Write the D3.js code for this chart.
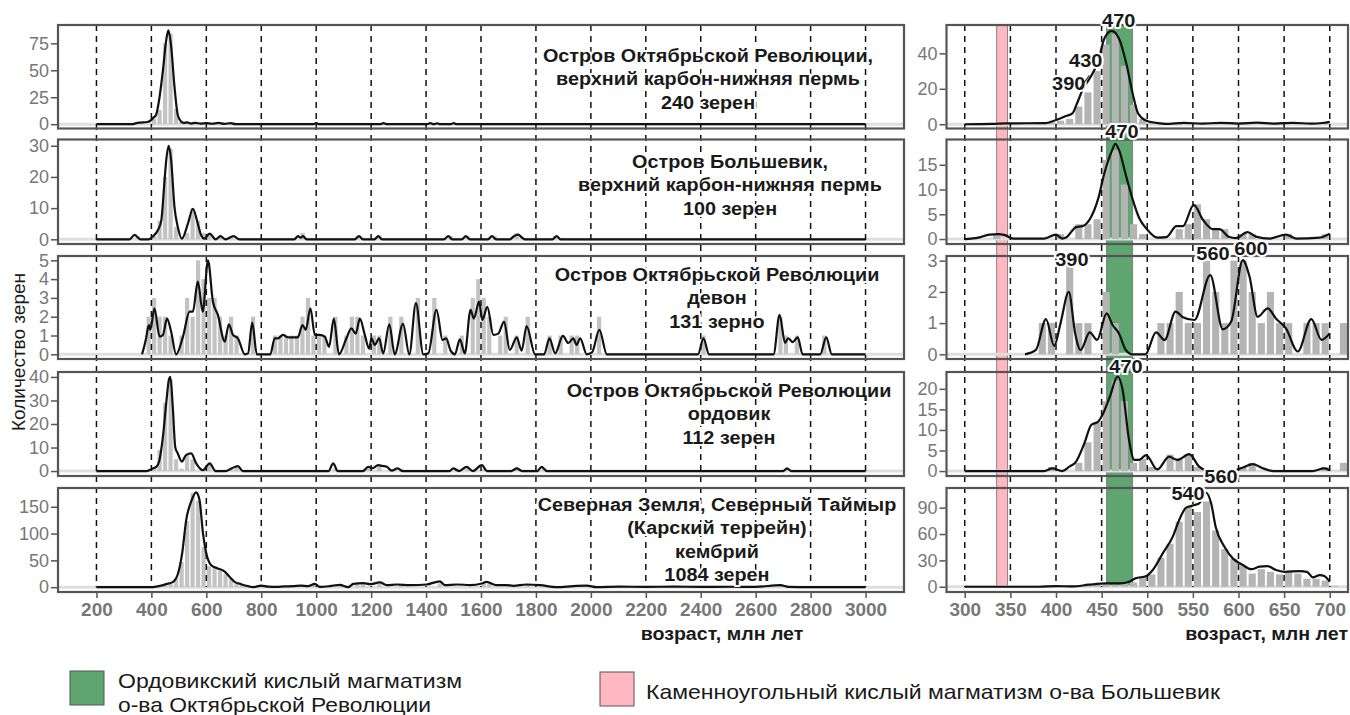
<!DOCTYPE html>
<html><head><meta charset="utf-8">
<script src="https://cdn.jsdelivr.net/npm/d3@7"></script>
<style>
body{margin:0;background:#fff}
svg{display:block}
text{font-family:"Liberation Sans",Arial,Helvetica,sans-serif}
</style></head>
<body><svg id="c" width="1350" height="715"></svg>
<script>
// ---------------- DATA ----------------
const panelTitles = [
  ["Остров Октябрьской Революции,","верхний карбон-нижняя пермь","240 зерен"],
  ["Остров Большевик,","верхний карбон-нижняя пермь","100 зерен"],
  ["Остров Октябрьской Революции","девон","131 зерно"],
  ["Остров Октябрьской Революции","ордовик","112 зерен"],
  ["Северная Земля, Северный Таймыр","(Карский террейн)","кембрий","1084 зерен"]
];
const xTicksLeft = [200,400,600,800,1000,1200,1400,1600,1800,2000,2200,2400,2600,2800,3000];
const xTicksRight = [300,350,400,450,500,550,600,650,700];
const yTicksLeft = [[0,25,50,75],[0,10,20,30],[0,1,2,3,4,5],[0,10,20,30,40],[0,50,100,150]];
const yTicksRight = [[0,20,40],[0,5,10,15],[0,1,2,3],[0,5,10,15,20],[0,30,60,90]];
const yDomLeft = [[-4,92],[-1.5,32],[-0.25,5.23],[-2.1,42.1],[-9,185]];
const yDomRight = [[-2.4,56],[-1,20.1],[-0.15,3.15],[-1.2,24.1],[-6,112.4]];
const xAxisTitle = "возраст, млн лет";
const yAxisTitle = "Количество зерен";

// KDE curves, left (200-3000 Ma)
const kdeL1 = [[200,0],[330,0],[345,1],[360,1.5],[385,2],[400,4],[405,5.5],[417,8.6],[430,25.6],[442,50],[454,78],[462,87],[472,72],[484,35],[496,8.6],[508,2.5],[518,1.2],[530,1.6],[545,0.6],[560,1.3],[580,0.5],[600,1],[620,0.4],[645,1.2],[665,0.3],[690,1],[705,0],[990,0],[1000,1],[1012,0],[1232,0],[1245,1],[1258,0],[1405,0],[1415,1],[1428,0],[1440,0.8],[1452,0],[1490,0],[1500,1],[1512,0],[3000,0]];
const kdeL2 = [[200,0],[320,0],[339,1.4],[360,0],[390,0],[406,1],[424,3],[436,6],[448,19],[454,25.3],[463,30],[472,25.3],[484,10.4],[496,4],[511,0.2],[533,5],[551,9.8],[569,5],[581,1.3],[593,0.2],[612,1.8],[634,0],[651,1],[670,0],[699,1],[721,0],[920,0],[934,1],[943,0.5],[952,1],[965,0],[1140,0],[1156,1],[1170,0],[1212,0],[1226,1],[1240,0],[1465,0],[1481,1],[1495,0],[1530,0],[1545,1],[1560,0],[1625,0],[1640,1],[1655,0],[1705,0],[1720,1],[1735,1.5],[1750,0.5],[1760,0],[1860,0],[1875,1],[1890,0],[3000,0]];
const kdeL3 = [[366,0],[380,0.8],[387,1.38],[391,1.56],[396,1.3],[411,2.45],[430,0.94],[442,1.03],[457,1.9],[472,1.2],[490,0],[515,0.94],[539,2.27],[551,2.27],[569,3.87],[587,2.27],[606,5.0],[624,2.8],[642,2.1],[667,0.67],[682,1.6],[697,1.03],[715,0.85],[740,0],[752,0.05],[767,1.68],[784,0],[833,0],[849,0.85],[861,0.85],[879,1.03],[897,0.9],[915,0.9],[933,0.9],[950,1.56],[962,1.3],[979,2.45],[995,1.03],[1013,1.03],[1031,0.94],[1047,0.4],[1064,1.9],[1083,0],[1110,0.85],[1128,1.38],[1144,1.1],[1159,1.9],[1177,1.03],[1193,0.3],[1201,0.85],[1213,0.5],[1229,0.85],[1244,0.05],[1266,1.6],[1286,0],[1316,1.62],[1339,0],[1363,2.72],[1390,0],[1408,0.05],[1438,2.36],[1460,0.76],[1473,0.85],[1490,0.18],[1505,0],[1523,0.8],[1541,0.05],[1562,2.36],[1574,1.9],[1593,2.8],[1605,1.83],[1623,2.53],[1645,1.03],[1663,1.1],[1684,1.74],[1705,0.23],[1730,0.9],[1748,0.2],[1766,1.5],[1797,0],[1830,0],[1849,0.85],[1870,0.05],[1898,0.98],[1918,0.6],[1936,0.85],[1948,0.5],[1961,0.85],[1985,0],[2004,0.1],[2031,1.3],[2058,0],[2390,0],[2410,0.85],[2430,0],[2665,0],[2687,2.1],[2707,0.6],[2718,0.85],[2735,0.65],[2753,0.9],[2771,0],[2835,0],[2857,0.9],[2877,0],[3000,0]];
const kdeL4 = [[200,0],[383,0],[405,1.1],[418,1.8],[430,5],[442,14.6],[455,30],[464,39],[469,40],[478,27],[487,10],[496,7.5],[511,4],[526,6.8],[545,7.5],[563,3.3],[588,0.4],[612,3.3],[634,0],[670,0],[691,1.1],[715,2.1],[733,0],[1045,0],[1062,3.3],[1078,0],[1170,0],[1189,1.8],[1205,1.2],[1226,2.5],[1240,2.2],[1257,1.8],[1275,0.2],[1297,1.1],[1315,0],[1485,0],[1499,1.1],[1520,0],[1548,1.8],[1570,0],[1603,2.5],[1622,0],[1710,0],[1730,1.1],[1750,0],[1805,0],[1821,1.8],[1840,0],[2700,0],[2714,1.1],[2730,0],[3000,0]];
const kdeL5 = [[200,0],[405,0],[427,1.9],[454,5.6],[479,10],[497,25.6],[512,63],[527,126],[545,160],[563,177],[575,163],[588,100],[600,63],[618,41],[642,35],[667,29],[685,19],[703,10],[727,5.6],[752,1.9],[770,0],[800,3],[825,1],[855,0.6],[885,1.5],[916,1.9],[945,3],[970,2],[995,6],[1013,0.6],[1050,2],[1086,4.4],[1116,0],[1135,6],[1172,7.5],[1196,5.6],[1232,8.8],[1257,3.8],[1294,5],[1342,3.8],[1402,5],[1450,11],[1469,3.8],[1512,5],[1560,4],[1603,6.9],[1620,10],[1656,3.8],[1690,4],[1718,2.5],[1766,5],[1815,3.8],[1876,0],[1936,1.9],[1985,3],[2021,0],[2100,1],[2200,0.5],[2300,1],[2400,0.5],[2500,0.8],[2600,0.5],[2690,3.8],[2720,0.5],[2800,0],[3000,0]];

// KDE curves, right (300-700 Ma)
const kdeR1 = [[300,0],[330,0.2],[347,0.5],[387,0.6],[400,2.4],[411,4.6],[418,6.1],[423,11.7],[429,19.3],[438,26.8],[446,35.2],[453,48.4],[461,52.7],[469,48.4],[477,34.4],[484,17.4],[490,6.1],[499,2],[510,0.8],[521,0.2],[540,0.8],[560,0.3],[580,0.8],[600,0.4],[620,0.9],[640,0.4],[660,0.8],[680,0.3],[692,0.7],[700,1.3]];
const kdeR2 = [[300,0],[315,0.3],[327,0.9],[337,1.0],[344,0.8],[353,0.1],[387,0.1],[400,0.9],[407,0.1],[411,0.3],[422,2.4],[429,2.6],[438,4.3],[446,8],[453,13.3],[461,17.7],[465,19.2],[469,18],[477,12.6],[484,8],[491,4.3],[500,1.9],[511,0.3],[521,0.4],[532,2.6],[539,2.6],[551,6.9],[561,3.9],[572,2.0],[579,2.0],[590,0.4],[597,0.2],[610,1.4],[619,0.5],[634,0.1],[652,0.9],[663,0.1],[689,0.3],[700,1.1]];
const kdeR3 = [[366,0],[378,0.14],[389,1.13],[398,0.27],[405,1.0],[414,2.0],[421,0.67],[427,0.14],[437,0.7],[445,0.46],[455.5,1.31],[462,0.94],[469,0.67],[476.5,0.14],[484,0],[498,0],[509.6,0.7],[519,0.46],[531,1.37],[539,1.19],[551.7,1.1],[569,2.54],[582.8,0.8],[592,1.05],[604.7,3.02],[612,2.5],[621,1.2],[632,1.47],[641,1.15],[652,0.83],[665,0.09],[679.8,1.13],[691,0.46],[700,0.67]];
const kdeR4 = [[300,0],[387,0],[396,0.65],[407,0],[414.5,1.06],[422,2.3],[431,6.7],[438.6,11.2],[446,12],[451,13.7],[459,18.1],[467.5,23],[473,19.8],[480,7.6],[486,2.7],[491,2.7],[498.7,3.9],[511,0.4],[524,3.5],[533,2.7],[546,4.1],[557,1.06],[568,0],[593,0],[604,0.8],[615.7,1.7],[627,0.65],[638,0],[681,0],[694,0.65],[700,0.2]];
const kdeR5 = [[300,0],[381,0],[400,0.8],[418,0.3],[436,2.3],[455,3.8],[470,3.8],[480,5.7],[487,9.5],[499,12.2],[506,19],[517,38],[528,57],[535,76],[542.6,90],[551.7,93],[557,95],[564.5,107],[570,95],[575,68],[584.6,45.5],[594,32],[604.7,24.7],[614,20],[623,22.8],[632,23.5],[641,19],[650.5,17],[667,17.8],[675,17],[681.6,10.6],[689,13.3],[694,12.2],[700,5.7]];

// Histograms: [bin start, count]; left bins 20 Ma, right bins 10 Ma
const histL1 = [[400,5],[420,13],[440,75],[460,84],[480,14],[500,2],[520,1],[560,1],[640,1],[680,1],[1000,1],[1240,1],[1420,1],[1440,1],[1500,1]];
const histL2 = [[340,1],[400,1],[420,6],[440,20],[460,29],[480,4],[520,2],[540,10],[560,6],[580,2],[600,2],[640,1],[680,1],[940,2],[1140,1],[1220,1],[1480,1],[1540,1],[1640,1],[1720,2],[1860,1]];
const histL3 = [[380,2],[400,3],[420,2],[440,2],[460,1],[500,1],[520,3],[540,2],[560,5],[580,4],[600,3],[620,3],[640,2],[660,1],[680,2],[700,1],[760,2],[840,1],[860,1],[880,1],[900,1],[920,1],[940,2],[960,3],[980,1],[1000,1],[1020,1],[1060,2],[1100,1],[1120,2],[1140,2],[1160,1],[1200,1],[1220,1],[1260,2],[1300,2],[1360,3],[1420,3],[1460,1],[1520,1],[1560,3],[1580,4],[1600,3],[1620,2],[1660,1],[1680,2],[1720,1],[1760,2],[1840,1],[1880,1],[1920,1],[1940,1],[2020,2],[2400,1],[2680,2],[2700,1],[2740,1],[2840,1]];
const histL4 = [[400,1],[420,9],[440,29],[460,39],[480,5],[500,1],[520,7],[540,5],[600,3],[680,1],[700,2],[1060,1],[1180,1],[1220,2],[1260,1],[1300,1],[1500,1],[1540,1],[1600,1],[1720,1],[1820,1],[2700,1]];
const histL5 = [[420,1],[440,5],[460,7],[480,16],[500,47],[520,123],[540,176],[560,161],[580,75],[600,39],[620,37],[640,31],[660,24],[680,16],[700,8],[720,4],[760,2],[800,3],[900,2],[980,4],[1080,3],[1140,5],[1160,6],[1220,6],[1300,4],[1440,7],[1600,7],[1620,6],[1760,4],[1980,3],[2680,3]];
const histR1 = [[390,1],[400,2],[410,3],[420,10],[430,18],[440,30],[450,45],[460,51],[470,33],[480,11],[490,3],[500,1],[510,1],[530,1],[560,1],[600,1],[640,1],[690,1]];
const histR2 = [[330,1],[400,1],[420,3],[430,3],[440,4],[450,16],[460,18],[470,11],[480,3],[490,1],[530,2],[540,3],[550,7],[560,4],[570,2],[580,2],[600,1],[610,1],[650,1],[690,1]];
const histR3 = [[380,1],[390,1],[410,3],[420,1],[430,1],[450,2],[460,1],[510,1],[520,1],[530,2],[540,1],[550,1],[560,3],[570,2],[580,1],[590,3],[600,3],[610,2],[620,1],[630,2],[640,1],[650,1],[670,1],[680,1],[690,1],[710,1]];
const histR4 = [[390,1],[420,2],[430,7],[440,12],[450,17],[460,22],[470,17],[480,2],[490,3],[500,1],[520,4],[530,3],[540,4],[550,1],[600,1],[610,2],[690,1],[710,2]];
const histR5 = [[430,1],[440,2],[450,3],[460,3],[470,4],[480,5],[490,11],[500,14],[510,33],[520,49],[530,74],[540,91],[550,85],[560,97],[570,64],[580,43],[590,32],[600,24],[610,15],[620,20],[630,17],[640,14],[650,17],[660,15],[670,9],[680,9],[690,7],[700,1]];

// magmatism bands (Ma)
const bandOrdovician = [455.5, 484];
const bandCarboniferous = [335, 347];
const legendItems = [
  {lines:["Ордовикский кислый магматизм","о-ва Октябрьской Революции"], color:"#5fa56f"},
  {lines:["Каменноугольный кислый магматизм о-ва Большевик"], color:"#ffb7c1"}
];
// peak annotations on right panels: [panel, label, age, value]
const peakLabels = [[0,"470",468.8,54.9],[0,"430",432.6,32.5],[0,"390",414,19.3],
  [1,"470",472.3,20.4],[2,"390",417.4,2.83],[2,"560",572,3.02],[2,"600",613.7,3.18],
  [3,"470",476.7,23.9],[4,"560",580.8,118],[4,"540",544.7,98.7]];

// ---------------- DRAW ----------------
const svg = d3.select("#c");
const rows = [{t:25,b:128.5},{t:139.5,b:244},{t:256,b:359},{t:372,b:476},{t:488,b:592}];
const xL = d3.scaleLinear().domain([60,3140]).range([58,904]);
const xR = d3.scaleLinear().domain([280,720]).range([946.5,1348]);
const sides = [
  {x:xL, kde:[kdeL1,kdeL2,kdeL3,kdeL4,kdeL5], hist:[histL1,histL2,histL3,histL4,histL5], bin:20, dom:yDomLeft, ticks:yTicksLeft, fill:"#c3c3c3", gap:1.3, xt:xTicksLeft},
  {x:xR, kde:[kdeR1,kdeR2,kdeR3,kdeR4,kdeR5], hist:[histR1,histR2,histR3,histR4,histR5], bin:10, dom:yDomRight, ticks:yTicksRight, fill:"#b4b4b4", gap:2, xt:xTicksRight}
];
const defs = svg.append("defs");
const gBands = svg.append("g"), gBars = svg.append("g"), gDash = svg.append("g"),
      gCurves = svg.append("g"), gFrames = svg.append("g"), gAxes = svg.append("g"), gText = svg.append("g");
const yScales = [[],[]];

// bands
[[bandCarboniferous,legendItems[1].color],[bandOrdovician,legendItems[0].color]].forEach(([b,c])=>{
  gBands.append("rect").attr("x",xR(b[0])).attr("width",xR(b[1])-xR(b[0]))
    .attr("y",rows[0].t).attr("height",586.7-rows[0].t)
    .attr("fill",c).attr("stroke","#6f6f6f").attr("stroke-width",0.8);
});

sides.forEach((s,si)=>{
  const [x0,x1] = s.x.range();
  rows.forEach((r,pi)=>{
    const y = d3.scaleLinear().domain(s.dom[pi]).range([r.b,r.t]);
    yScales[si][pi]=y;
    const id = `clip${si}_${pi}`;
    defs.append("clipPath").attr("id",id).append("rect").attr("x",x0).attr("y",r.t).attr("width",x1-x0).attr("height",r.b-r.t);
    const gb = gBars.append("g").attr("clip-path",`url(#${id})`);
    gb.append("line").attr("x1",x0).attr("x2",x1).attr("y1",y(0)).attr("y2",y(0)).attr("stroke","#dedede").attr("stroke-width",3);
    gb.selectAll("rect").data(s.hist[pi]).join("rect")
      .attr("x",d=>s.x(d[0])+s.gap/2).attr("width",d=>s.x(d[0]+s.bin)-s.x(d[0])-s.gap)
      .attr("y",d=>y(d[1])).attr("height",d=>y(0)-y(d[1])).attr("fill",s.fill);
    gCurves.append("path").attr("clip-path",`url(#${id})`).datum(s.kde[pi])
      .attr("d",d3.line().x(d=>s.x(d[0])).y(d=>y(d[1])).curve(d3.curveMonotoneX))
      .attr("fill","none").attr("stroke","#111").attr("stroke-width",2.2).attr("stroke-linejoin","round");
    gFrames.append("rect").attr("x",x0).attr("y",r.t).attr("width",x1-x0).attr("height",r.b-r.t)
      .attr("fill","none").attr("stroke","#555").attr("stroke-width",2.2);
    const ax = gAxes.append("g").attr("transform",`translate(${x0-1},0)`)
      .call(d3.axisLeft(y).tickValues(s.ticks[pi]).tickSize(6).tickPadding(2).tickFormat(d3.format("d")));
    ax.select(".domain").remove();
    ax.selectAll("line").attr("stroke","#555").attr("stroke-width",1.5);
    ax.selectAll("text").attr("fill","#777").style("font-size","18px").style("font-family","Liberation Sans, Arial, sans-serif");
  });
  // dashed verticals
  gDash.selectAll(null).data(s.xt).join("line")
    .attr("x1",d=>s.x(d)).attr("x2",d=>s.x(d)).attr("y1",rows[0].t).attr("y2",587)
    .attr("stroke","#111").attr("stroke-width",1.5).attr("stroke-dasharray","6,5");
  const xa = gAxes.append("g").attr("transform",`translate(0,${rows[4].b+1})`)
    .call(d3.axisBottom(s.x).tickValues(s.xt).tickSize(5).tickPadding(5).tickFormat(d3.format("d")));
  xa.select(".domain").remove();
  xa.selectAll("line").attr("stroke","#555").attr("stroke-width",1.5);
  xa.selectAll("text").attr("fill","#777").style("font-size","19px").style("font-weight","bold").style("font-family","Liberation Sans, Arial, sans-serif");
});

function stretch(sel,k){ sel.each(function(){ const w=this.getComputedTextLength(); d3.select(this).attr("textLength",w*k).attr("lengthAdjust","spacingAndGlyphs"); }); }
function halo(sel,w){ sel.attr("stroke","#fff").attr("stroke-width",w).attr("stroke-linejoin","round").style("paint-order","stroke"); }

// panel titles
const titleX = [708,730,717,729,717], titleY0 = [62,168,281,397,511];
panelTitles.forEach((lines,i)=>{
  const t = gText.selectAll(null).data(lines).join("text")
    .attr("x",titleX[i]).attr("y",(d,j)=>titleY0[i]+j*23.3).attr("text-anchor","middle")
    .style("font-size","18px").style("font-weight","bold").attr("fill","#1a1a1a").text(d=>d);
  halo(t,4); stretch(t,1.1);
});

// peak labels
const pl = gText.selectAll(null).data(peakLabels).join("text")
  .attr("x",d=>xR(d[2])).attr("y",d=>yScales[1][d[0]](d[3])).attr("text-anchor","middle")
  .style("font-size","19px").style("font-weight","bold").attr("fill","#1a1a1a").text(d=>d[1]);
halo(pl,4); stretch(pl,1.05);
// leader for 390 on first right panel
gText.append("line").attr("x1",xR(425.5)).attr("y1",yScales[1][0](19.8)).attr("x2",xR(436.5)).attr("y2",yScales[1][0](27.5))
  .attr("stroke","#222").attr("stroke-width",1.2);

// axis titles
gText.append("text").attr("x",722).attr("y",640).attr("text-anchor","middle").style("font-size","17.5px").style("font-weight","bold").attr("fill","#1a1a1a").text(xAxisTitle).call(stretch,1.12);
gText.append("text").attr("x",1348).attr("y",640).attr("text-anchor","end").style("font-size","17.5px").style("font-weight","bold").attr("fill","#1a1a1a").text(xAxisTitle).call(stretch,1.12);
gText.append("text").attr("transform","translate(25,352) rotate(-90)").attr("text-anchor","middle").style("font-size","19px").attr("fill","#1a1a1a").text(yAxisTitle);

// legend
const lg = [{x:70,y:671,tx:118,ty:[688,712],w:[344,313]},{x:600,y:672,tx:646,ty:[699],w:[574]}];
legendItems.forEach((it,i)=>{
  const p = lg[i];
  gText.append("rect").attr("x",p.x).attr("y",p.y).attr("width",34).attr("height",34).attr("fill",it.color).attr("stroke","#555").attr("stroke-width",1);
  it.lines.forEach((ln,j)=>{
    gText.append("text").attr("x",p.tx).attr("y",p.ty[j]).style("font-size","21px").attr("fill","#1a1a1a")
      .attr("textLength",p.w[j]).attr("lengthAdjust","spacingAndGlyphs").text(ln);
  });
});
</script></body></html>
